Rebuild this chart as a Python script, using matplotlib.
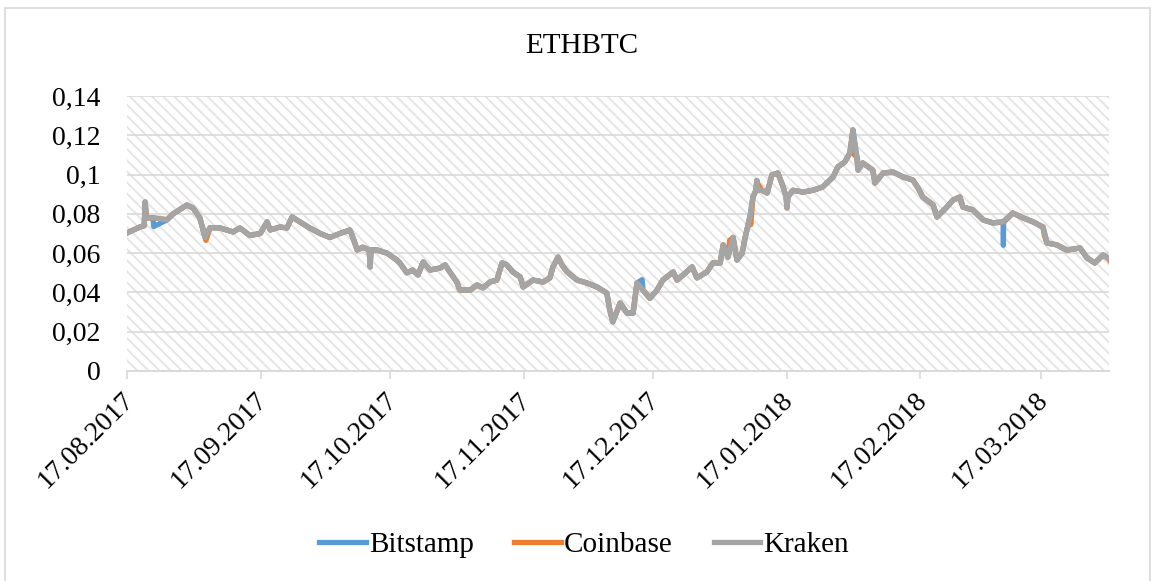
import numpy as np
import matplotlib
matplotlib.use("Agg")
import matplotlib.pyplot as plt
import matplotlib.dates as mdates
from matplotlib.patches import Rectangle
from matplotlib.ticker import FuncFormatter
from matplotlib.transforms import ScaledTranslation

plt.rcParams['font.family'] = ['Liberation Serif', 'DejaVu Serif']
plt.rcParams['hatch.linewidth'] = 1.3

START = np.datetime64('2017-08-17')

# days since 17.08.2017 and the ETH/BTC price (Kraken)
days = [0.0, 3.0, 4.0, 4.2, 4.5, 6.0, 9.3, 10.7, 13.9, 15.3, 16.9, 18.1, 19.3, 21.6,
        24.6, 26.2, 28.5, 30.9, 32.5, 33.2, 35.5, 37.1, 38.3, 40.1, 42.4, 44.8, 47.1,
        49.4, 51.7, 52.4, 53.4, 54.7, 56.2, 56.4, 56.6, 58.0, 60.3, 62.6, 63.3, 64.9,
        66.3, 67.5, 68.7, 70.3, 72.6, 73.8, 74.9, 76.5, 77.2, 79.6, 81.2, 82.6, 84.2,
        85.8, 87.0, 88.1, 89.5, 91.2, 91.9, 94.2, 96.5, 98.1, 98.8, 100.0, 100.9, 102.1,
        104.4, 106.7, 109.0, 111.3, 112.0, 112.7, 114.4, 116.0, 117.4, 118.3, 119.7,
        121.3, 122.9, 124.3, 126.7, 127.6, 129.0, 131.1, 132.2, 134.5, 135.9, 137.6,
        138.3, 139.4, 140.6, 141.5, 142.7, 143.4, 144.5, 145.2, 145.9, 146.1, 146.3,
        147.3, 148.5, 149.6, 151.0, 152.2, 152.9, 153.1, 153.3, 154.5, 156.8, 159.1,
        161.4, 163.8, 164.9, 166.5, 167.7, 168.4, 169.3, 169.6, 170.7, 173.0, 173.5,
        175.4, 177.7, 180.0, 182.3, 183.5, 184.6, 187.0, 187.9, 190.2, 191.6, 193.2,
        193.9, 196.2, 198.6, 200.9, 203.2, 205.5, 207.8, 210.2, 212.5, 213.4, 215.7,
        218.0, 221.1, 222.7, 224.5, 226.4, 227.6]
kraken = [0.0703, 0.0733, 0.0740, 0.0860, 0.0780, 0.0780, 0.0770, 0.0800, 0.0845, 0.0830,
          0.0780, 0.0680, 0.0730, 0.0728, 0.0708, 0.0728, 0.0690, 0.0700, 0.0759, 0.0718,
          0.0733, 0.0728, 0.0784, 0.0759, 0.0728, 0.0700, 0.0680, 0.0700, 0.0718, 0.0680,
          0.0616, 0.0630, 0.0616, 0.0530, 0.0616, 0.0616, 0.0600, 0.0565, 0.0550, 0.0500,
          0.0514, 0.0489, 0.0555, 0.0514, 0.0524, 0.0540, 0.0504, 0.0453, 0.0412, 0.0412,
          0.0438, 0.0423, 0.0453, 0.0463, 0.0550, 0.0540, 0.0504, 0.0479, 0.0428, 0.0463,
          0.0453, 0.0474, 0.0530, 0.0580, 0.0540, 0.0504, 0.0463, 0.0448, 0.0428, 0.0397,
          0.0310, 0.0250, 0.0346, 0.0295, 0.0295, 0.0448, 0.0412, 0.0370, 0.0410, 0.0463,
          0.0504, 0.0463, 0.0489, 0.0530, 0.0474, 0.0504, 0.0550, 0.0550, 0.0642, 0.0580,
          0.0680, 0.0565, 0.0600, 0.0680, 0.0784, 0.0886, 0.0920, 0.0970, 0.0920, 0.0920,
          0.0906, 0.0998, 0.1008, 0.0937, 0.0886, 0.0830, 0.0886, 0.0920, 0.0911, 0.0920,
          0.0937, 0.0988, 0.1039, 0.1064, 0.1110, 0.1227, 0.1090, 0.1023, 0.1059, 0.1023,
          0.0957, 0.1008, 0.1013, 0.0988, 0.0972, 0.0932, 0.0886, 0.0845, 0.0784, 0.0835,
          0.0870, 0.0886, 0.0835, 0.0820, 0.0769, 0.0754, 0.0759, 0.0804, 0.0780, 0.0759,
          0.0733, 0.0652, 0.0642, 0.0616, 0.0626, 0.0575, 0.0550, 0.0590, 0.0575]

# where the other exchanges part from Kraken
bitstamp_days = [6.2, 119.5, 203.25, 203.3, 203.35]
bitstamp_vals = [0.0735, 0.0465, 0.0757, 0.0640, 0.0757]
coinbase_days = [18.3, 112.9, 139.8, 144.7, 146.4, 168.7, 212.8, 227.9]
coinbase_vals = [0.0665, 0.0265, 0.0665, 0.0745, 0.0950, 0.1100, 0.0690, 0.0565]

series_names = ['Bitstamp', 'Coinbase', 'Kraken']
colors = ['#5B9BD5', '#ED7D31', '#A5A5A5']

y_ticks = [0, 0.02, 0.04, 0.06, 0.08, 0.1, 0.12, 0.14]
x_ticks = ['2017-08-17', '2017-09-17', '2017-10-17', '2017-11-17', '2017-12-17',
           '2018-01-17', '2018-02-17', '2018-03-17']


def to_dates(d):
    return START + (np.asarray(d) * 24 * 60).astype('timedelta64[m]')


def merged(extra_d, extra_v):
    d = np.concatenate([days, extra_d])
    v = np.concatenate([kraken, extra_v])
    order = np.argsort(d, kind='stable')
    return to_dates(d[order]), v[order]


fig = plt.figure(figsize=(11.53, 5.81), dpi=100)
ax = fig.add_axes([127 / 1153, 1 - 371 / 581, (1109 - 127) / 1153, (371 - 96) / 581])

# chart frame
fig.patches.append(Rectangle((5 / 1153, -0.01), 1145 / 1153, 1 - 8 / 581 + 0.01,
                             transform=fig.transFigure, fill=False,
                             edgecolor='#d9d9d9', lw=1.2))

# hatched plot area
ax.add_patch(Rectangle((0, 0), 1, 1, transform=ax.transAxes, facecolor='white',
                       edgecolor='#e4e4e4', lw=0, hatch='\\\\\\', zorder=0))

lines = [merged(bitstamp_days, bitstamp_vals),
         merged(coinbase_days, coinbase_vals),
         (to_dates(days), np.array(kraken))]
for (x, y), name, c in zip(lines, series_names, colors):
    ax.plot(x, y, color=c, lw=3.8, label=name, zorder=3)

ax.set_ylim(0, 0.14)
ax.set_xlim(START, to_dates([227.8])[0])
ax.set_yticks(y_ticks)
ax.yaxis.set_major_formatter(FuncFormatter(lambda v, p: f'{v:g}'.replace('.', ',')))
ax.set_xticks([np.datetime64(t) for t in x_ticks])
ax.xaxis.set_major_formatter(mdates.DateFormatter('%d.%m.%Y'))

ax.grid(axis='y', color='#d9d9d9', lw=1.2, zorder=1)
ax.set_axisbelow(True)
for s in ['left', 'right', 'top']:
    ax.spines[s].set_visible(False)
ax.spines['bottom'].set_color('#d9d9d9')
ax.spines['bottom'].set_linewidth(1.4)
ax.tick_params(axis='y', length=0, pad=19, labelsize=20)
ax.tick_params(axis='x', length=6, width=1.2, color='#d9d9d9', pad=6, labelsize=20)
shift = ScaledTranslation(-6 / 100, 0, fig.dpi_scale_trans)
for lab in ax.get_xticklabels():
    lab.set_rotation(45)
    lab.set_ha('right')
    lab.set_va('top')
    lab.set_rotation_mode('anchor')
    lab.set_transform(lab.get_transform() + shift)

fig.text(582 / 1153, 1 - 46 / 581, 'ETHBTC', ha='center', va='center', fontsize=21)
fig.legend(loc='center', bbox_to_anchor=(584 / 1153, 1 - 545 / 581), ncol=3,
           frameon=False, fontsize=21, handlelength=1.6, handletextpad=0.1,
           columnspacing=1.4)

fig.savefig('out.png', dpi=100)
